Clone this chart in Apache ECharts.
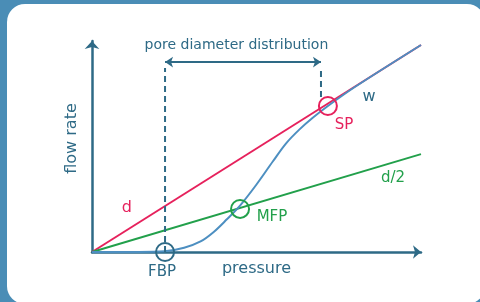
<!DOCTYPE html>
<html>
<head>
<meta charset="utf-8">
<script src="https://cdn.jsdelivr.net/npm/echarts@6/dist/echarts.min.js"></script>
<style>
  html, body { margin: 0; padding: 0; background: #4a8db6; }
  #chart { width: 480px; height: 302px; }
</style>
</head>
<body>
<div id="chart"></div>
<script>
// dry curve (d) and half dry curve (d/2), straight from the origin
const dryLine = [[0, 0], [100, 98.1]];
const halfDryLine = [[0, 0], [100, 46.4]];

// wet curve (w)
const wetCurve = [
  [0, 0], [14, 0], [22, 0.3], [28, 2], [33, 5], [37, 9.5], [41, 15.5],
  [45, 22], [50, 32], [55, 43], [59, 51.5], [63, 58], [67, 63.5],
  [71.7, 69.2], [80, 78.3], [100, 98.1]
];

// marked points
const pointNames = ['FBP', 'MFP', 'SP'];
const pointCoords = [[22.2, 0], [45.0, 20.4], [71.7, 69.2]];

// dashed guides + range arrow
const guideLeft = [[22.2, 0], [22.2, 87.2]];
const guideRight = [[69.6, 73.5], [69.6, 87.2]];
const rangeArrow = [[22.2, 90.0], [69.6, 90.0]];

// text notes
const noteTexts = ['pore diameter distribution', 'd', 'd/2', 'w', 'SP', 'MFP', 'FBP'];
const noteCoords = [[43.9, 98.1], [10.6, 20.9], [91.5, 35.1], [84.2, 73.5], [76.6, 60.2], [54.7, 16.6], [21.3, -9.5]];

const teal = '#2e6a86';
const red = '#e6215c';
const green = '#22a04b';
const blue = '#4d8fc1';
const font = 'DejaVu Sans';
const noteColors = [teal, red, green, teal, red, green, teal];
const noteSizes = [14, 16, 15, 16, 15, 15, 15];
const pointColors = [teal, green, red];

const chart = echarts.init(document.getElementById('chart'));

chart.setOption({
  animation: false,
  backgroundColor: '#4a8db6',
  graphic: [
    {
      type: 'rect',
      z: -10,
      shape: { x: 7, y: 4, width: 478, height: 300, r: 18 },
      style: { fill: '#ffffff' }
    }
  ],
  grid: { left: 92, top: 41, width: 329, height: 211 },
  xAxis: {
    type: 'value',
    min: 0,
    max: 100,
    name: 'pressure',
    nameLocation: 'middle',
    nameGap: 9,
    nameTextStyle: { color: teal, fontSize: 16, fontFamily: font },
    axisLine: {
      show: true,
      symbol: ['none', 'arrow'],
      symbolSize: [10, 8],
      lineStyle: { color: teal, width: 2.5 }
    },
    axisTick: { show: false },
    axisLabel: { show: false },
    splitLine: { show: false }
  },
  yAxis: {
    type: 'value',
    min: 0,
    max: 100,
    name: 'flow rate',
    nameLocation: 'middle',
    nameGap: 12,
    nameTextStyle: { color: teal, fontSize: 16, fontFamily: font, padding: [0, 0, 0, 16] },
    axisLine: {
      show: true,
      symbol: ['none', 'arrow'],
      symbolSize: [11, 8],
      lineStyle: { color: teal, width: 2.5 }
    },
    axisTick: { show: false },
    axisLabel: { show: false },
    splitLine: { show: false }
  },
  series: [
    {
      name: 'd',
      type: 'line',
      data: dryLine,
      showSymbol: false,
      silent: true,
      lineStyle: { color: red, width: 2 }
    },
    {
      name: 'd/2',
      type: 'line',
      data: halfDryLine,
      showSymbol: false,
      silent: true,
      lineStyle: { color: green, width: 2 }
    },
    {
      name: 'w',
      type: 'line',
      data: wetCurve,
      smooth: 0.35,
      showSymbol: false,
      silent: true,
      lineStyle: { color: blue, width: 2 }
    },
    {
      type: 'line',
      data: guideLeft,
      showSymbol: false,
      silent: true,
      lineStyle: { color: teal, width: 2, type: [6, 4] },
      markLine: {
        silent: true,
        symbol: ['arrow', 'arrow'],
        symbolSize: [8, 8],
        label: { show: false },
        lineStyle: { color: teal, width: 2, type: 'solid' },
        data: [[{ coord: rangeArrow[0] }, { coord: rangeArrow[1] }]]
      }
    },
    {
      type: 'line',
      data: guideRight,
      showSymbol: false,
      silent: true,
      lineStyle: { color: teal, width: 2, type: [6, 4] }
    },
    {
      type: 'scatter',
      silent: true,
      symbol: 'circle',
      symbolSize: 18,
      z: 5,
      data: pointCoords.map((c, i) => ({
        name: pointNames[i],
        value: c,
        itemStyle: { color: 'rgba(0,0,0,0)', opacity: 1, borderColor: pointColors[i], borderWidth: 2 }
      }))
    },
    {
      type: 'scatter',
      silent: true,
      clip: false,
      symbolSize: 1,
      itemStyle: { color: 'rgba(0,0,0,0)', opacity: 1 },
      z: 6,
      data: noteCoords.map((c, i) => ({
        value: c,
        label: {
          show: true,
          position: 'inside',
          formatter: noteTexts[i],
          color: noteColors[i],
          fontSize: noteSizes[i],
          fontFamily: font
        }
      }))
    }
  ]
});
</script>
</body>
</html>
